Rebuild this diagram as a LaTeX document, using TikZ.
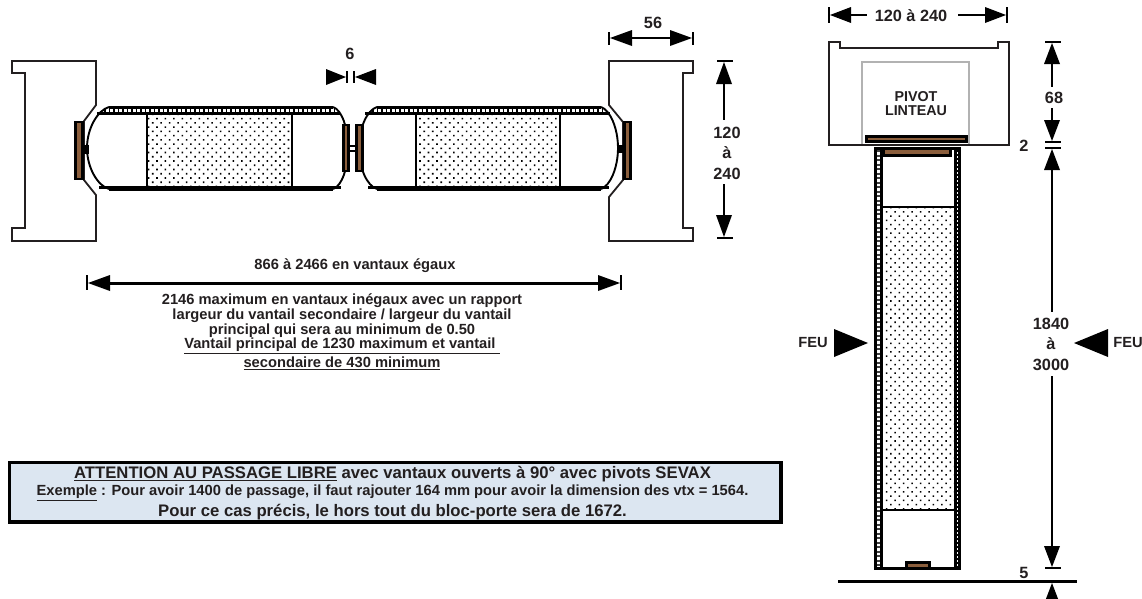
\documentclass[tikz,border=0pt]{standalone}
\usepackage{fontspec}
\setmainfont{Liberation Sans}[BoldFont={Liberation Sans Bold}]
\usepackage{tikz}
\usetikzlibrary{patterns.meta}
\definecolor{plaque}{HTML}{8B5E3C}
\definecolor{bandeau}{HTML}{DCE6F1}
\definecolor{encre}{HTML}{231F20}
\tikzset{
  cote/.style={line width=2.8pt,draw=black},
  repere/.style={line width=2.6pt,draw=black},
  txt/.style={font=\bfseries\fontsize{14.7}{15}\selectfont,text=encre,inner sep=0pt,align=center},
  txtgrand/.style={font=\bfseries\fontsize{16.7}{18}\selectfont,text=encre,inner sep=0pt,align=center},
  txtcote/.style={font=\bfseries\fontsize{16.3}{20.5}\selectfont,text=encre,inner sep=0pt,align=center},
  bati/.style={line width=1.8pt,draw=encre,fill=white,line join=miter},
  trait/.style={line width=2.7pt,draw=black},
  gros/.style={line width=3pt,draw=black},
  arrondi/.style={line width=1.9pt,draw=black},
  plaq/.style={draw=black,line width=2.6pt,fill=plaque},
  bande/.style={black,line width=3pt,dash pattern=on 1.5pt off 3pt},
  isolant/.style={pattern={Dots[distance=6pt,angle=45,radius=1.1pt]},pattern color=black}
}
% tete de fleche : pointe x, pointe y, longueur, demi-largeur
\newcommand{\tetex}[4]{\fill[black] (#1,#2) -- ++(#3,#4) -- ++(0,-2*#4) -- cycle;}
\newcommand{\tetey}[4]{\fill[black] (#1,#2) -- ++(#4,#3) -- ++(-2*#4,0) -- cycle;}
\begin{document}
\begin{tikzpicture}[x=1pt,y=-1pt]
\useasboundingbox (0,0) rectangle (1142,598);
% dormants
\draw[bati] (12,61) -- (96,61) -- (96,105) -- (84,121) -- (84,180) -- (96,195) -- (96,241) -- (12,241) -- (12,228) -- (25,228) -- (25,73) -- (12,73) -- cycle;
\draw[bati] (693,61) -- (609,61) -- (609,105) -- (623,122) -- (623,180) -- (609,197) -- (609,241) -- (693,241) -- (693,228) -- (683,228) -- (683,73) -- (693,73) -- cycle;
% vantail gauche
\draw[arrondi] (333,107) .. controls (342,110) and (348,128) .. (348,148) .. controls (348,168) and (342,186) .. (333,189);
\draw[arrondi] (109,189) .. controls (98,186) and (87,168) .. (87,148) .. controls (87,128) and (98,110) .. (109,107);
\draw[gros] (109,107) -- (333,107) (109,189) -- (333,189);
\fill[isolant] (148,114) rectangle (291,186);
\draw[bande] (104,110) -- (335,110);
\draw[gros] (97,113.5) -- (340,113.5);
\draw[gros] (99,187) -- (341,187);
\draw[trait] (147,113) -- (147,187);
\draw[trait] (292,113) -- (292,187);
% vantail droit
\draw[arrondi] (601,107) .. controls (610,110) and (618,128) .. (618,148) .. controls (618,168) and (610,186) .. (601,189);
\draw[arrondi] (377,189) .. controls (367,186) and (359,168) .. (359,148) .. controls (359,128) and (367,110) .. (377,107);
\draw[gros] (377,107) -- (601,107) (377,189) -- (601,189);
\fill[isolant] (417,114) rectangle (559,186);
\draw[bande] (372,110) -- (606,110);
\draw[gros] (365,113.5) -- (610,113.5);
\draw[gros] (368,187) -- (609,187);
\draw[trait] (416,113) -- (416,187);
\draw[trait] (560,113) -- (560,187);
% pivots
\fill[black] (83,145) rectangle (89,154);
\fill[black] (618,145) rectangle (624,153);
\draw[black,line width=1.5pt] (349,146) -- (356,146) (349,151) -- (356,151);
\draw[plaq] (75.3,122) rectangle (82.7,179);
\draw[plaq] (343.3,125) rectangle (348.7,171);
\draw[plaq] (356.3,125) rectangle (362.7,171);
\draw[plaq] (624.3,122) rectangle (630.7,179);
% cote 56
\draw[repere] (609,32) -- (609,45) (693,32) -- (693,45);
\draw[cote] (625,38) -- (680,38);
\tetex{610}{38}{22}{8} \tetex{692}{38}{-22}{8}
\node[txtcote] (l56) at (653,23) {56};
% cote 6
\draw[repere] (347,71) -- (347,83) (354,71) -- (354,83);
\tetex{346}{77}{-20}{8} \tetex{355}{77}{21}{8}
\node[txtcote] (l6) at (350,54) {6};
% cote 120 a 240
\draw[repere] (717,61) -- (733,61) (717,238) -- (733,238);
\draw[cote] (724,70) -- (724,120) (724,184) -- (724,230);
\tetey{724}{62}{22}{8} \tetey{724}{237}{-22}{8}
\node[txtcote] (l120) at (727,153) {120\\à\\240};
% cote largeur
\draw[repere] (87,275) -- (87,290) (621,275) -- (621,290);
\draw[line width=3pt] (100,283) -- (610,283);
\tetex{88}{283}{22}{8} \tetex{620}{283}{-22}{8}
\node[txt] (llarg) at (355,266) {866 à 2466 en vantaux égaux};
\node[txt] (lrap) at (342,331.5) {2146 maximum en vantaux inégaux avec un rapport\\
  largeur du vantail secondaire / largeur du vantail\\
  principal qui sera au minimum de 0.50\\[-1pt]
  \underline{Vantail principal de 1230 maximum et vantail\ }\\[2pt]
  \underline{secondaire de 430 minimum}};
% bandeau
\node[draw=black,line width=3.5pt,fill=bandeau,minimum width=771.5pt,minimum height=59.5pt,inner sep=0pt,anchor=north west] (ban) at (7.75,460.75) {};
\node[txtgrand] (ban1) at (392.5,474) {\underline{ATTENTION AU PASSAGE LIBRE} avec vantaux ouverts à 90° avec pivots SEVAX};
\node[txt] (ban2) at (392.5,493) {\underline{Exemple} : Pour avoir 1400 de passage, il faut rajouter 164 mm pour avoir la dimension des vtx = 1564.};
\node[txtgrand] (ban3) at (392.5,512) {Pour ce cas précis, le hors tout du bloc-porte sera de 1672.};
% cote 120 a 240 haut
\draw[repere] (829,7) -- (829,23) (1007,7) -- (1007,23);
\draw[cote] (840,15) -- (867,15) (958,15) -- (998,15);
\tetex{830}{15}{21}{8} \tetex{1006}{15}{-21}{8}
\node[txtcote] (lhaut) at (911,16) {120 à 240};
% linteau
\draw[bati] (829,42) -- (840,42) -- (840,48) -- (998,48) -- (998,42) -- (1009,42) -- (1009,145) -- (829,145) -- cycle;
\draw[black!30,line width=2.5pt,fill=white] (862,144) -- (862,62) -- (969,62) -- (969,144);
\draw[plaq] (866.5,136.5) rectangle (966.5,141.5);
\node[txtcote,font=\bfseries\fontsize{14.3}{14}\selectfont] (lpivot) at (916,104) {PIVOT\\LINTEAU};
% vantail en coupe
\fill[isolant] (884,208) rectangle (954,510);
\draw[black!75,line width=3pt,dash pattern=on 2pt off 2.5pt] (878,150) -- (878,567);
\draw[gros] (875.5,148.5) rectangle (959,568);
\draw[black,line width=1.2pt,dash pattern=on 1.5pt off 2.5pt] (957,150) -- (957,567);
\draw[trait] (881.5,148) -- (881.5,568);
\draw[gros] (955,148) -- (955,568);
\draw[trait] (882,207) -- (955,207) (882,510) -- (955,510);
\draw[plaq] (883.5,148.5) rectangle (950.5,155.5);
\draw[plaq] (906.5,562.5) rectangle (929.5,568);
% sol
\draw[line width=3pt] (838,581) -- (1077,581);
% cotes verticales
\draw[repere] (1045,42) -- (1061,42) (1045,142) -- (1061,142) (1045,148) -- (1061,148) (1045,568) -- (1061,568);
\draw[cote] (1052,60) -- (1052,87) (1052,108) -- (1052,125) (1052,165) -- (1052,312) (1052,376) -- (1052,550);
\tetey{1052}{43}{21}{8} \tetey{1052}{141}{-21}{8} \tetey{1052}{149}{21}{8} \tetey{1052}{567}{-21}{8} \tetey{1052}{583}{21}{8}
\node[txtcote] (l68) at (1054,98) {68};
\node[txtcote] (l2) at (1024,146) {2};
\node[txtcote] (l5) at (1024,573) {5};
\node[txtcote] (l1840) at (1051,344) {1840\\à\\3000};
% feu
\tetex{868}{343}{-34}{14} \tetex{1074}{343}{34}{14}
\node[txt] (feug) at (813,343) {FEU};
\node[txt] (feud) at (1128,343) {FEU};
\end{tikzpicture}
\end{document}
